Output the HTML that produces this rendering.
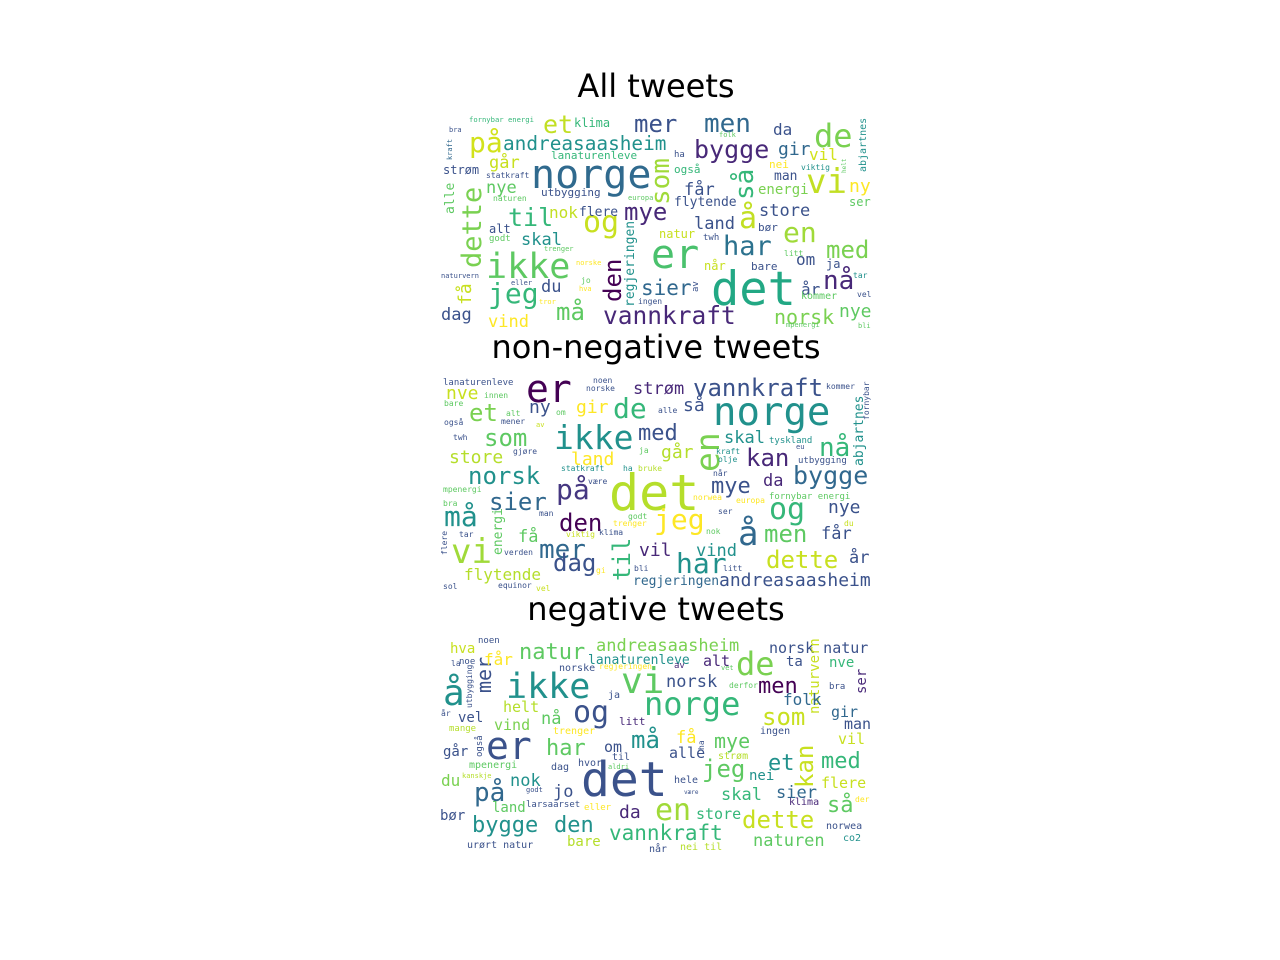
<!DOCTYPE html>
<html><head><meta charset="utf-8"><title>Word clouds</title>
<style>
html,body{margin:0;padding:0;background:#fff;}
svg{display:block;}
.ttl{font-family:"DejaVu Sans","Liberation Sans",sans-serif;font-size:32px;fill:#000;}
.w{font-family:"DejaVu Sans Mono","Liberation Mono",monospace;}
</style></head>
<body>
<svg id="chart" width="1280" height="960" viewBox="0 0 1280 960" xmlns="http://www.w3.org/2000/svg">
<rect width="1280" height="960" fill="#fff"/>
<text class="ttl" x="656" y="97" text-anchor="middle">All tweets</text>
<text class="ttl" x="656" y="358" text-anchor="middle">non-negative tweets</text>
<text class="ttl" x="656" y="620" text-anchor="middle">negative tweets</text>
<g id="p1"></g>
<g id="p2"></g>
<g id="p3"></g>
</svg>
<script>
// [word, x, baseline-y, font-size, colour, rotated]
const allWords = [
["norge",531,188,40,"#306a8e",0],["det",711,305,47,"#22a884",0],["ikke",486,278,35,"#5ec962",0],
["er",651,268,40,"#4ac16d",0],["og",583,232,30,"#c8e020",0],["vi",806,193,34,"#c2df23",0],
["de",814,147,32,"#7ad151",0],["en",783,242,28,"#a0da39",0],["har",723,255,27,"#2c728e",0],
["på",469,152,28,"#d2e21b",0],["andreasaasheim",503,150,19.4,"#21918c",0],["mer",634,132,24,"#3b528b",0],
["men",704,132,26,"#31688e",0],["et",543,133,25,"#c2df23",0],["klima",574,127,12,"#35b779",0],
["fornybar energi",469,122,7.2,"#35b779",0],["bra",449,132,7,"#3b528b",0],["bygge",694,158,25,"#482878",0],
["da",773,135,16,"#3b528b",0],["gir",778,155,18,"#31688e",0],["vil",809,160,16,"#d2e21b",0],
["abjartnes",866,172,10,"#21918c",1],["som",669,205,26,"#a0da39",1],["så",753,200,26,"#35b779",1],
["å",739,228,30,"#c2df23",0],["ny",849,192,18,"#fde725",0],["ser",849,206,12,"#5ec962",0],
["energi",758,194,14,"#7ad151",0],["man",774,180,13,"#3b528b",0],["nei",769,168,11,"#fde725",0],
["viktig",801,170,8,"#21918c",0],["dette",481,268,27,"#7ad151",1],["få",471,305,18,"#c8e020",1],
["til",508,226,25,"#35b779",0],["nok",549,218,16,"#c2df23",0],["flere",579,216,13,"#3b528b",0],
["mye",624,220,24,"#482878",0],["land",694,229,17,"#3b528b",0],["store",759,216,17,"#3b528b",0],
["nye",486,193,17,"#5ec962",0],["går",489,168,17,"#c8e020",0],["lanaturenleve",551,159,11,"#35b779",0],
["strøm",443,174,12,"#3b528b",0],["statkraft",486,178,8,"#3b528b",0],["utbygging",541,196,11,"#3b528b",0],
["også",674,173,11,"#35b779",0],["ha",674,157,9,"#3b528b",0],["får",684,195,17,"#3b528b",0],
["flytende",674,206,13,"#3b528b",0],["europa",628,200,7,"#5ec962",0],["naturen",493,201,8,"#5ec962",0],
["alle",454,214,13,"#5ec962",1],["kraft",452,160,7,"#31688e",1],["alt",489,233,12,"#3b528b",0],
["godt",489,241,9,"#5ec962",0],["skal",521,245,17,"#21918c",0],["trenger",544,251,7,"#5ec962",0],
["natur",659,238,12,"#c8e020",0],["twh",703,240,9,"#3b528b",0],["bør",758,231,11,"#3b528b",0],
["regjeringen",634,307,13,"#21918c",1],["den",621,302,24,"#440154",1],["med",826,258,24,"#7ad151",0],
["om",796,265,16,"#3b528b",0],["ja",826,268,12,"#3b528b",0],["når",704,270,12,"#c8e020",0],
["bare",751,270,11,"#3b528b",0],["litt",784,256,8,"#5ec962",0],["nå",823,289,26,"#482878",0],
["år",801,295,16,"#3b528b",0],["tar",853,278,8,"#21918c",0],["kommer",801,299,10,"#5ec962",0],
["vel",857,297,8,"#3b528b",0],["sier",641,295,21,"#31688e",0],["av",698,292,9,"#3b528b",1],
["ingen",638,304,8,"#3b528b",0],["du",541,292,17,"#3b528b",0],["jeg",488,303,28,"#35b779",0],
["må",556,320,24,"#5ec962",0],["vannkraft",603,324,24.5,"#482878",0],["norsk",774,324,20,"#7ad151",0],
["nye",839,317,18,"#5ec962",0],["dag",441,320,17,"#3b528b",0],["vind",488,327,17,"#fde725",0],
["jo",581,283,8,"#5ec962",0],["eller",511,285,7,"#3b528b",0],["hva",579,291,7,"#fde725",0],
["tror",539,304,7,"#fde725",0],["naturvern",441,278,7,"#3b528b",0],["norske",576,265,7,"#fde725",0],
["mpenergi",786,327,7,"#5ec962",0],["bli",858,328,7,"#5ec962",0],["folk",719,137,7,"#5ec962",0],
["helt",846,173,6,"#5ec962",1]
];
const nonNegativeWords = [
["det",609,510,50,"#b5de2b",0],["norge",713,425,39,"#21918c",0],["ikke",554,449,33,"#21918c",0],
["er",526,402,38,"#440154",0],["en",719,472,33,"#7ad151",1],["vannkraft",693,396,24,"#3b528b",0],
["de",613,418,28,"#35b779",0],["et",469,421,24,"#7ad151",0],["ny",529,413,18,"#3b528b",0],
["gir",576,413,18,"#fde725",0],["strøm",633,394,17,"#482878",0],["nve",446,399,18,"#c8e020",0],
["lanaturenleve",443,385,9,"#3b528b",0],["innen",484,398,8,"#5ec962",0],["bare",444,406,8,"#5ec962",0],
["alt",506,416,8,"#5ec962",0],["om",556,415,8,"#5ec962",0],["mener",501,424,8,"#3b528b",0],
["også",444,425,8,"#3b528b",0],["av",536,427,7,"#c8e020",0],["noen",593,383,8,"#3b528b",0],
["norske",586,391,8,"#3b528b",0],["så",683,411,18,"#3b528b",0],["alle",658,413,8,"#3b528b",0],
["kommer",826,389,8,"#3b528b",0],["fornybar",869,420,8,"#3b528b",1],["abjartnes",863,466,13,"#21918c",1],
["som",484,446,24,"#5ec962",0],["med",638,440,22,"#3b528b",0],["skal",724,443,17,"#21918c",0],
["tyskland",769,443,9,"#21918c",0],["eu",796,449,7,"#3b528b",0],["nå",819,456,26,"#35b779",0],
["twh",453,440,8,"#3b528b",0],["store",449,463,18,"#b5de2b",0],["gjøre",513,454,8,"#3b528b",0],
["land",571,465,18,"#fde725",0],["går",661,458,18,"#b5de2b",0],["ja",639,453,8,"#5ec962",0],
["kan",746,466,24,"#482878",0],["kraft",716,454,8,"#21918c",0],["olje",718,462,8,"#21918c",0],
["utbygging",798,463,9,"#3b528b",0],["norsk",468,484,24,"#21918c",0],["bygge",793,484,25,"#31688e",0],
["statkraft",561,471,8,"#21918c",0],["ha",623,471,8,"#21918c",0],["bruke",638,471,8,"#b5de2b",0],
["på",556,499,28,"#453781",0],["mye",711,493,22,"#3b528b",0],["da",763,486,17,"#482878",0],
["når",713,476,8,"#3b528b",0],["være",588,484,8,"#3b528b",0],["mpenergi",443,492,8,"#5ec962",0],
["sier",489,510,24,"#31688e",0],["norwea",693,500,8,"#fde725",0],["europa",736,503,8,"#fde725",0],
["fornybar energi",769,499,9,"#5ec962",0],["bra",443,506,8,"#5ec962",0],["og",769,519,30,"#35b779",0],
["nye",828,513,18,"#3b528b",0],["må",444,526,28,"#21918c",0],["den",559,531,24,"#440154",0],
["jeg",654,529,28,"#fde725",0],["ser",718,514,8,"#3b528b",0],["energi",502,555,13,"#5ec962",1],
["man",539,516,8,"#3b528b",0],["godt",628,519,8,"#5ec962",0],["trenger",613,526,8,"#fde725",0],
["viktig",566,537,8,"#c8e020",0],["klima",599,535,8,"#3b528b",0],["nok",706,534,8,"#5ec962",0],
["å",738,545,34,"#31688e",0],["men",764,542,24,"#5ec962",0],["får",821,539,17,"#3b528b",0],
["du",844,526,8,"#c8e020",0],["få",518,542,17,"#5ec962",0],["tar",459,537,8,"#3b528b",0],
["flere",447,555,8,"#3b528b",1],["vi",451,563,34,"#a0da39",0],["mer",539,558,26,"#31688e",0],
["vil",639,556,18,"#482878",0],["vind",696,556,17,"#21918c",0],["verden",504,555,8,"#3b528b",0],
["til",630,581,24,"#35b779",1],["dette",766,568,24,"#c8e020",0],["år",849,563,17,"#3b528b",0],
["har",676,573,28,"#21918c",0],["dag",553,571,24,"#3b528b",0],["flytende",464,580,16,"#b5de2b",0],
["gi",596,573,8,"#fde725",0],["bli",634,571,8,"#3b528b",0],["litt",723,571,8,"#3b528b",0],
["regjeringen",633,585,13,"#31688e",0],["andreasaasheim",719,586,18,"#3b528b",0],["sol",443,589,8,"#3b528b",0],
["equinor",498,588,8,"#3b528b",0],["vel",536,591,8,"#c8e020",0]
];
const negativeWords = [
["det",581,796,48,"#3b528b",0],["er",486,759,38,"#3b528b",0],["ikke",506,698,35,"#21918c",0],
["vi",621,693,36,"#5ec962",0],["norge",644,715,32,"#35b779",0],["å",443,705,36,"#21918c",0],
["mer",491,693,20,"#3b528b",1],["og",573,722,30,"#3b528b",0],["natur",519,659,22,"#5ec962",0],
["andreasaasheim",596,651,17,"#7ad151",0],["lanaturenleve",588,664,13,"#21918c",0],["hva",450,653,14,"#c8e020",0],
["noen",478,643,9,"#3b528b",0],["noe",459,664,9,"#3b528b",0],["la",451,666,8,"#3b528b",0],
["får",484,665,16,"#fde725",0],["alt",703,666,15,"#482878",0],["av",674,668,9,"#482878",0],
["vet",721,670,7,"#5ec962",0],["regjeringen",599,669,8,"#fde725",0],["norske",559,671,10,"#3b528b",0],
["de",736,675,32,"#7ad151",0],["norsk natur",769,653,15,"#3b528b",0],["ta",786,666,14,"#3b528b",0],
["nve",829,667,14,"#35b779",0],["naturvern",819,714,14,"#c8e020",1],["ser",866,694,14,"#482878",1],
["bra",829,689,9,"#3b528b",0],["men",758,693,22,"#440154",0],["norsk",666,687,17,"#3b528b",0],
["derfor",729,688,8,"#5ec962",0],["utbygging",472,708,8,"#3b528b",1],["år",441,716,8,"#3b528b",0],
["folk",783,705,16,"#31688e",0],["gir",831,717,15,"#31688e",0],["man",844,729,15,"#3b528b",0],
["vil",838,744,15,"#c8e020",0],["som",762,725,24,"#c8e020",0],["helt",503,712,15,"#b5de2b",0],
["vel",458,722,14,"#3b528b",0],["ja",608,698,10,"#3b528b",0],["nå",541,724,17,"#5ec962",0],
["vind",494,730,15,"#7ad151",0],["mange",449,731,9,"#b5de2b",0],["litt",619,725,11,"#482878",0],
["trenger",553,734,10,"#fde725",0],["ingen",760,734,10,"#3b528b",0],["må",631,748,24,"#21918c",0],
["få",676,743,17,"#fde725",0],["mye",714,748,20,"#5ec962",0],["har",546,755,22,"#5ec962",0],
["om",604,752,15,"#3b528b",0],["alle",669,758,15,"#3b528b",0],["ha",704,750,8,"#3b528b",1],
["strøm",718,759,10,"#b5de2b",0],["går",443,756,14,"#3b528b",0],["også",482,757,9,"#3b528b",1],
["til",612,760,10,"#3b528b",0],["mpenergi",469,768,10,"#5ec962",0],["dag",551,770,10,"#3b528b",0],
["hvor",578,766,10,"#3b528b",0],["aldri",608,769,7,"#5ec962",0],["et",768,770,22,"#21918c",0],
["kan",813,788,24,"#c8e020",1],["med",821,768,22,"#35b779",0],["jeg",702,777,24,"#5ec962",0],
["nei",749,780,14,"#21918c",0],["flere",821,788,15,"#c8e020",0],["du",441,786,16,"#7ad151",0],
["nok",510,786,17,"#21918c",0],["jo",553,797,17,"#3b528b",0],["kanskje",462,778,7,"#b5de2b",0],
["hele",674,783,10,"#3b528b",0],["på",474,801,26,"#31688e",0],["godt",526,792,7,"#3b528b",0],
["være",684,794,6,"#3b528b",0],["skal",721,800,17,"#35b779",0],["sier",776,798,17,"#31688e",0],
["så",827,812,22,"#5ec962",0],["der",855,802,8,"#fde725",0],["klima",789,805,10,"#482878",0],
["land",492,812,14,"#5ec962",0],["larsaarset",526,807,9,"#3b528b",0],["eller",584,810,9,"#fde725",0],
["da",619,818,18,"#482878",0],["en",655,820,30,"#a0da39",0],["store",696,819,15,"#35b779",0],
["dette",742,828,24,"#c8e020",0],["bør",440,820,14,"#3b528b",0],["bygge",472,832,22,"#21918c",0],
["den",554,832,22,"#21918c",0],["vannkraft",609,840,21,"#35b779",0],["norwea",826,829,10,"#3b528b",0],
["naturen",753,846,17,"#5ec962",0],["co2",843,841,10,"#21918c",0],["bare",567,846,14,"#b5de2b",0],
["urørt natur",467,848,10,"#3b528b",0],["når",649,852,10,"#3b528b",0],["nei til",680,850,10,"#b5de2b",0]
];
const NS = "http://www.w3.org/2000/svg";
function draw(gid, words){
  const g = document.getElementById(gid);
  for (const w of words){
    const t = document.createElementNS(NS, "text");
    t.setAttribute("class", "w");
    t.setAttribute("x", w[1]);
    t.setAttribute("y", w[2]);
    t.setAttribute("font-size", w[3]);
    t.setAttribute("fill", w[4]);
    if (w[5]) t.setAttribute("transform", "rotate(-90 " + w[1] + " " + w[2] + ")");
    t.textContent = w[0];
    
    
    g.appendChild(t);
  }
}
draw("p1", allWords);
draw("p2", nonNegativeWords);
draw("p3", negativeWords);
</script>
</body></html>
